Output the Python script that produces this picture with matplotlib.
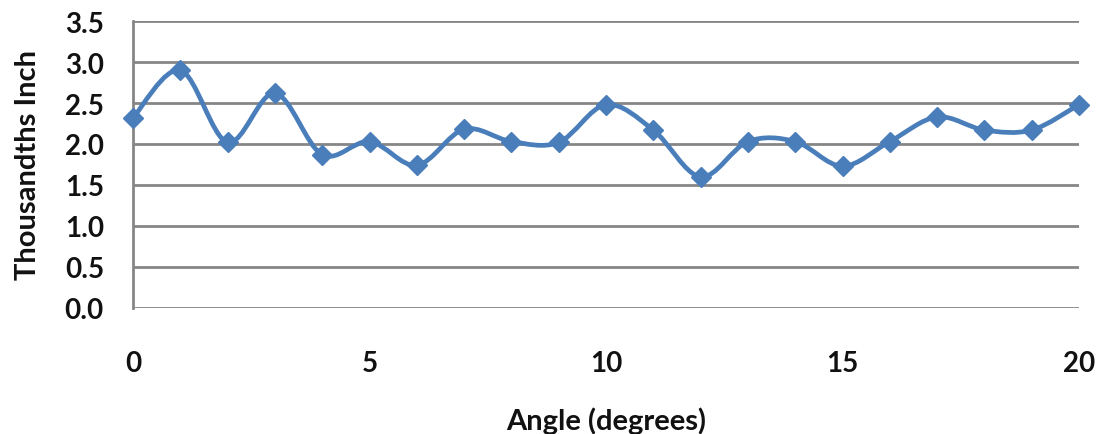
import numpy as np
import matplotlib.pyplot as plt
from matplotlib.path import Path
from matplotlib.patches import PathPatch

angle = list(range(21))
thou = [2.32, 2.90, 2.02, 2.62, 1.87, 2.03, 1.74, 2.18, 2.03, 2.02, 2.48,
        2.17, 1.60, 2.03, 2.03, 1.73, 2.03, 2.33, 2.17, 2.17, 2.48]
yticks = [0.0, 0.5, 1.0, 1.5, 2.0, 2.5, 3.0, 3.5]
xticks = [0, 5, 10, 15, 20]

plt.rcParams['font.family'] = ['Lato', 'DejaVu Sans']
blue = '#4a7ebb'
grey = '#868686'
txt = '#111111'

fig = plt.figure(figsize=(10.96, 4.35), dpi=100)
ax = fig.add_axes([0.1214, 0.2897, 0.8631, 0.6597])

# Excel style smoothed line: cubic bezier segments through the points
x = np.array(angle, dtype=float)
y = np.array(thou)
verts = [(x[0], y[0])]
codes = [Path.MOVETO]
n = len(x)
for i in range(n - 1):
    p0 = np.array([x[max(i - 1, 0)], y[max(i - 1, 0)]])
    p1 = np.array([x[i], y[i]])
    p2 = np.array([x[i + 1], y[i + 1]])
    p3 = np.array([x[min(i + 2, n - 1)], y[min(i + 2, n - 1)]])
    c1 = p1 + (p2 - p0) / 6
    c2 = p2 - (p3 - p1) / 6
    verts += [tuple(c1), tuple(c2), tuple(p2)]
    codes += [Path.CURVE4] * 3
ax.add_patch(PathPatch(Path(verts, codes), facecolor='none', edgecolor=blue,
                       lw=3.4, zorder=3, clip_on=False))
ax.plot(angle, thou, linestyle='none', marker='D', ms=10, color=blue,
        zorder=4, clip_on=False)

ax.set_xlim(0, 20)
ax.set_ylim(0, 3.5)
ax.set_yticks(yticks)
ax.set_yticklabels([f'{v:.1f}' for v in yticks])
ax.set_xticks(xticks)
ax.grid(axis='y', color=grey, lw=2)
ax.set_axisbelow(True)
for s in ['top', 'right', 'bottom']:
    ax.spines[s].set_visible(False)
ax.spines['left'].set_color(grey)
ax.spines['left'].set_linewidth(2)
ax.tick_params(axis='y', length=0, pad=21, labelsize=20)
ax.tick_params(axis='x', length=0, pad=30, labelsize=20)
for lab in ax.get_xticklabels() + ax.get_yticklabels():
    lab.set_fontweight('bold')
    lab.set_color(txt)
ax.set_xlabel('Angle (degrees)', fontsize=21, fontweight='bold',
              color=txt, labelpad=22)
ax.set_ylabel('Thousandths Inch', fontsize=21, fontweight='bold',
              color=txt, labelpad=17)

fig.savefig('out.png', dpi=100)
